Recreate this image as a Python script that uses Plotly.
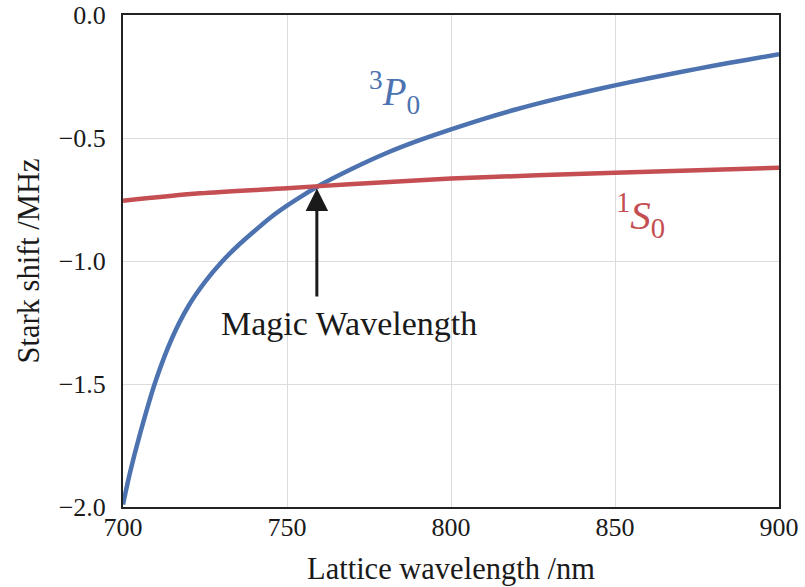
import plotly.graph_objects as go

# Lattice wavelength (nm) and Stark shift (MHz)
p0_wavelength = [700, 702, 705, 710, 715, 720, 725, 730, 735, 740, 745, 750, 755, 760,
                 770, 780, 790, 800, 810, 820, 830, 840, 850, 860, 870, 880, 890, 900]
p0_shift = [-1.990, -1.868, -1.712, -1.486, -1.312, -1.182, -1.085, -1.005, -0.938,
            -0.879, -0.823, -0.775, -0.732, -0.692, -0.624, -0.563, -0.511, -0.465,
            -0.422, -0.383, -0.348, -0.316, -0.286, -0.258, -0.232, -0.206, -0.183,
            -0.159]

s0_wavelength = [700, 723.4, 750, 769, 800, 850, 900]
s0_shift = [-0.755, -0.725, -0.704, -0.688, -0.665, -0.641, -0.621]

x_ticks = [700, 750, 800, 850, 900]
y_ticks = [0.0, -0.5, -1.0, -1.5, -2.0]

magic_wavelength = 759.1
magic_shift = -0.700
arrow_tail_shift = -1.15

BLUE = "#4C72B0"
RED = "#C44E52"
FONT = "Liberation Serif, Times New Roman, serif"

fig = go.Figure()
fig.add_trace(go.Scatter(x=p0_wavelength, y=p0_shift, mode="lines",
                         line=dict(color=BLUE, width=4.5, shape="spline", smoothing=0.8),
                         showlegend=False, hoverinfo="skip"))
fig.add_trace(go.Scatter(x=s0_wavelength, y=s0_shift, mode="lines",
                         line=dict(color=RED, width=4.5, shape="spline", smoothing=0.8),
                         showlegend=False, hoverinfo="skip"))

# Arrow to the magic wavelength
fig.add_annotation(x=magic_wavelength, y=magic_shift - 0.005, ax=magic_wavelength,
                   ay=arrow_tail_shift, xref="x", yref="y", axref="x", ayref="y",
                   text="", showarrow=True, arrowhead=2, arrowsize=1.5,
                   arrowwidth=3, arrowcolor="#1a1a1a")
fig.add_annotation(x=768.8, y=-1.253, xref="x", yref="y", text="Magic Wavelength",
                   showarrow=False, font=dict(family=FONT, size=34, color="#1a1a1a"))
fig.add_annotation(x=782.8, y=-0.317, xref="x", yref="y",
                   text="<sup>3</sup><i>P</i><sub>0</sub>", showarrow=False,
                   font=dict(family=FONT, size=39, color=BLUE))
fig.add_annotation(x=857.9, y=-0.814, xref="x", yref="y",
                   text="<sup>1</sup><i>S</i><sub>0</sub>", showarrow=False,
                   font=dict(family=FONT, size=41, color=RED))

axis_common = dict(showline=True, linecolor="#222222", linewidth=2, mirror=True,
                   showgrid=True, gridcolor="#dcdcdc", gridwidth=1, zeroline=False,
                   ticks="", automargin=False, ticklabeloverflow="allow",
                   tickfont=dict(family=FONT, size=26, color="#1a1a1a"))

fig.update_xaxes(range=[700, 900], tickvals=x_ticks, ticktext=[str(v) for v in x_ticks],
                 title=dict(text="Lattice wavelength /nm", standoff=16,
                            font=dict(family=FONT, size=30.5, color="#1a1a1a")),
                 ticklabelstandoff=-4, **axis_common)
fig.update_yaxes(range=[-2.0, 0.0], tickvals=y_ticks, tickformat=".1f",
                 title=dict(text="Stark shift /MHz", standoff=10,
                            font=dict(family=FONT, size=30.5, color="#1a1a1a")),
                 ticklabelstandoff=10, **axis_common)

fig.update_layout(width=805, height=587, margin=dict(l=123, r=26, t=15, b=80),
                  plot_bgcolor="white", paper_bgcolor="white",
                  font=dict(family=FONT, color="#1a1a1a"))

# Remove the page's default body margin so the figure fills the window exactly
fig.write_html("out.html", config={"displayModeBar": False},
               post_script="document.body.style.margin='0px';document.body.style.overflow='hidden';")
